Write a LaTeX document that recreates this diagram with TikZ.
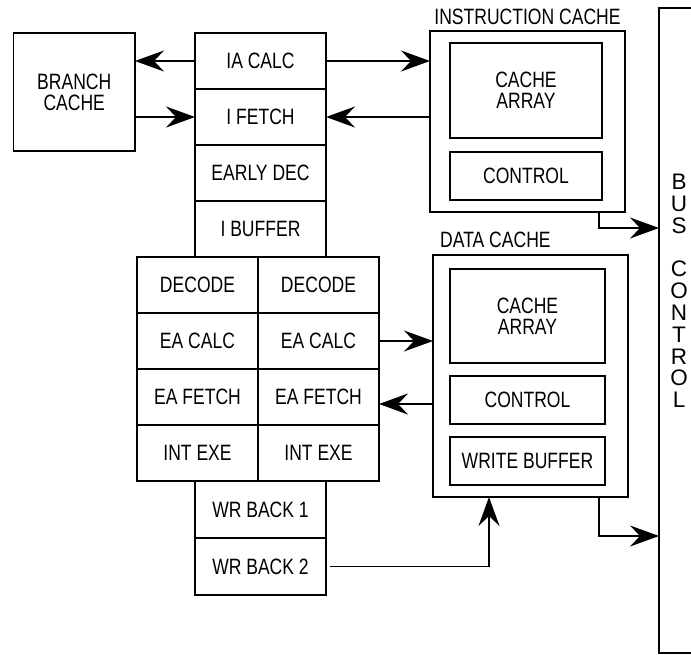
\documentclass[tikz,border=0pt]{standalone}
\usepackage{fontspec}
\setmainfont{Liberation Sans}[FakeStretch=0.79]
\newfontfamily\busfont{Liberation Sans}
\usetikzlibrary{arrows.meta}
\begin{document}
\begin{tikzpicture}[x=1pt,y=-1pt,
  stage/.style={draw,line width=1.6pt,minimum width=131pt,minimum height=56pt,inner sep=0pt,outer sep=0pt,font=\fontsize{22.2}{21}\selectfont,align=center},
  half/.style={stage,minimum width=121pt},
  unit/.style={draw,line width=1.4pt,minimum width=154pt,inner sep=0pt,outer sep=0pt,font=\fontsize{22.2}{21}\selectfont,align=center},
  cache/.style={draw,line width=1.8pt,minimum width=195pt,inner sep=0pt,outer sep=0pt},
  title/.style={font=\fontsize{22.2}{21}\selectfont,inner sep=0pt},
  link/.style={line width=1.2pt,-{Stealth[length=29pt,width=21pt,inset=10pt]}}]
\useasboundingbox (0,0) rectangle (691,654);
\coordinate (s0) at (260.5,33);
\foreach \n[count=\j,evaluate=\j as\i using int(\j-1)] in {IA CALC,I FETCH,EARLY DEC,I BUFFER}
\node at(s\i.south)[anchor=north,stage](s\j){\n};
\coordinate (l0) at (258,257);
\coordinate (r0) at (258,257);
\foreach \n/\m[count=\j,evaluate=\j as\i using int(\j-1)] in {DECODE/DECODE,EA CALC/EA CALC,EA FETCH/EA FETCH,INT EXE/INT EXE}
\node at(l\i.south east)[anchor=north east,half](l\j){\n}
    node at(r\i.south west)[anchor=north west,half](r\j){\m};
\node at(260.5,481)[anchor=north,stage,minimum height=57pt](w1){WR BACK 1};
\node at(w1.south)[anchor=north,stage,minimum height=57pt](w2){WR BACK 2};
\node at(13.5,33)[anchor=north west,stage,minimum width=121.5pt,minimum height=118pt](bc){BRANCH\\CACHE};
\node at(430,31)[anchor=north west,cache,minimum height=181pt](ic){};
\node at([yshift=7pt]ic.north)[anchor=base,title](ict){INSTRUCTION CACHE};
\node at(450,43)[anchor=north west,unit,minimum width=152pt,minimum height=95pt](ica){CACHE\\ARRAY};
\node at(450,152)[anchor=north west,unit,minimum width=152pt,minimum height=48pt](icc){CONTROL};
\node at(433,255)[anchor=north west,cache,minimum height=242pt](dc){};
\node at([xshift=7pt,yshift=8pt]dc.north west)[anchor=base west,title](dct){DATA CACHE};
\node at(450,269)[anchor=north west,unit,minimum width=155pt,minimum height=94pt](dca){CACHE\\ARRAY};
\node at(450,376)[anchor=north west,unit,minimum width=155pt,minimum height=48pt](dcc){CONTROL};
\node at(450,437)[anchor=north west,unit,minimum width=155pt,minimum height=48pt](dcw){WRITE BUFFER};
\node at(659,8)[anchor=north west,draw,line width=1.4pt,minimum width=60pt,minimum height=645pt,inner sep=0pt,outer sep=0pt](bus){};
\node at(679,291)[font=\busfont\fontsize{22.5}{21.8}\selectfont,align=center,inner sep=0pt](bust){B\\U\\S\\[21.8pt]C\\O\\N\\T\\R\\O\\L};
\draw[link] (s1.west) -- (bc.east |- s1.west);
\draw[link] (bc.east |- s2.west) -- (s2.west);
\draw[link] (s1.east) -- (ic.west |- s1.east);
\draw[link] (ic.west |- s2.east) -- (s2.east);
\draw[link] ([xshift=-26pt]ic.south east) |- ([yshift=-16pt]ic.south -| bus.west);
\draw[link] (r2.east) -- (dc.west |- r2.east);
\draw[link] ([yshift=-7pt]r3.east -| dc.west) -- ([yshift=-7pt]r3.east);
\draw[link] ([xshift=4pt]w2.east) -| ([xshift=56pt]dc.south west);
\draw[link] ([xshift=-29pt]dc.south east) |- ([yshift=-39pt]dc.south -| bus.west);
\end{tikzpicture}
\end{document}
